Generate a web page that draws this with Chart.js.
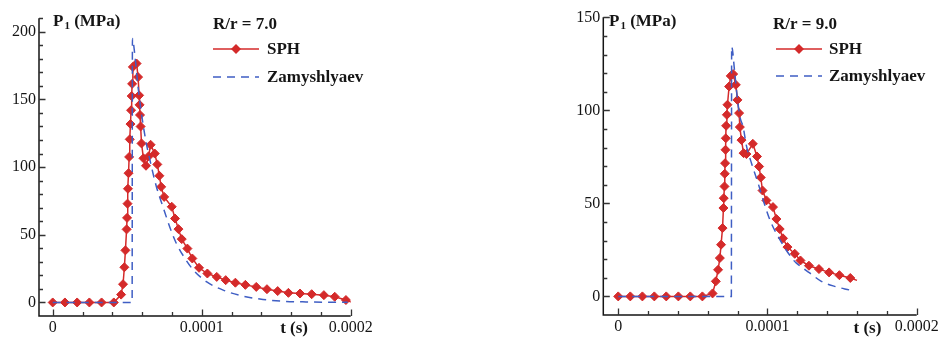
<!DOCTYPE html>
<html>
<head>
<meta charset="utf-8">
<script src="https://cdn.jsdelivr.net/npm/chart.js@4.4.1/dist/chart.umd.min.js"></script>
<style>
  html, body { margin: 0; padding: 0; background: #fff; }
  #wrap { position: relative; width: 943px; height: 338px; }
  #c1 { position: absolute; left: 0; top: 0; }
  #c2 { position: absolute; left: 470px; top: 0; }
</style>
</head>
<body>
<div id="wrap">
  <canvas id="c1" width="470" height="338"></canvas>
  <canvas id="c2" width="473" height="338"></canvas>
</div>
<script>
// time values in microseconds (axis labels are shown in seconds), pressure in MPa

// R/r = 7.0
const sph7T = [0, 8.2, 16.4, 24.6, 32.8, 41,
  45.9, 47.2, 48.1, 48.8, 49.6, 49.9, 50.2, 50.5, 50.9, 51.3, 51.7, 52.2, 52.6, 53, 53.3, 53.8, 56.3,
  57.3, 58, 58.3, 58.6, 59, 59.6, 60.9, 62.6, 64.4, 65.7, 68.5, 70.2, 71.6, 72.8, 74.8, 79.9, 82.1,
  84.4, 86.6, 90.4, 93.7, 98.2, 103.8, 110.1, 116.1, 122.6, 129.3, 136.6, 143.8, 151, 158.2, 166,
  173.8, 182, 189.3, 196.8, 200.5];
const sph7P = [0, 0, 0, 0, 0, 0,
  5.8, 13.5, 26, 38.5, 54, 62.5, 73, 84, 95.5, 107.5, 120.5, 131.8, 142, 152.5, 161.5, 174, 176.5,
  166.5, 153, 146, 138.5, 130, 117.5, 106.5, 101, 108, 116.5, 110, 102, 93.6, 85.4, 78, 70.7, 62,
  54.2, 46.8, 39.8, 32.5, 25.6, 21.4, 18.9, 16.5, 14.6, 13, 11.5, 9.8, 8.4, 7.1, 6.6,
  6.1, 5.4, 4.2, 1.8, 0.3];
const zam7T = [0, 53.3, 53.5, 55, 57.3, 59.5, 62.4, 65.1, 69.6, 74, 78.5, 83, 88.8, 94.4, 103.4,
  114.5, 125.7, 139, 154.6, 170, 198];
const zam7P = [0, 0, 195, 184, 159, 140, 120, 106, 85.5, 70.7, 56, 43.6, 32.5, 24, 15.2,
  9.1, 5.2, 2.5, 0.9, 0.4, 0.1];

// R/r = 9.0
const sph9T = [0, 8.1, 16.2, 24.2, 32.2, 40.3, 48.3, 56.4,
  63.2, 65.4, 66.9, 68.1, 68.9, 69.9, 70.5, 70.7, 71.2, 71.4, 71.6, 71.9, 72.1, 72.3, 72.8, 73.2,
  74.3, 75.4, 77, 78.8, 79.9, 81, 81.5, 82.6, 84, 85.9, 90.2, 93, 94.4, 95.5, 96.7, 99.3, 103.7,
  106, 108.2, 110.4, 113.4, 118.3, 122.1, 127.8, 134.5, 141.3, 148.2, 155.5, 160];
const sph9P = [0, 0, 0, 0, 0, 0, 0, 0,
  1.6, 8.1, 14.3, 20.6, 27.8, 36.7, 47.5, 52.8, 59.1, 65.9, 71.6, 78.8, 85, 91.7, 97.6, 103,
  112.8, 118.5, 119.5, 113.7, 105.6, 98.5, 91, 84, 77, 76.5, 82, 75.2, 69.8, 63.9, 56.9, 51.6, 48,
  41.6, 36.2, 31.2, 26.5, 22.9, 19.3, 16.5, 14.7, 12.9, 11.4, 9.9, 8.6];
const zam9T = [0, 75.8, 76, 78.1, 79.7, 81.5, 83.7, 86, 89.3, 93.7, 97.1, 101.6, 108.3, 117.2,
  119.4, 128.3, 136.1, 145, 155.2];
const zam9P = [0, 0, 134.2, 120, 107.4, 96.7, 91, 80.6, 71.6, 60.9, 51.9, 41.2, 30.5, 19.7,
  17.9, 12.6, 8.1, 5.4, 3.4];

const RED = '#d42a2a';
const BLUE = '#3f5ec4';
const INK = '#151515';
const SERIF = "'Liberation Serif', 'Times New Roman', serif";

function pts(ts, ps) {
  return ts.map((t, i) => ({ x: t, y: ps[i] }));
}

function diamond(ctx, x, y, r) {
  ctx.beginPath();
  ctx.moveTo(x - r, y);
  ctx.lineTo(x, y - r);
  ctx.lineTo(x + r, y);
  ctx.lineTo(x, y + r);
  ctx.closePath();
  ctx.fill();
}

// axes with inward ticks, labels and legend
function decor(cfg) {
  return {
    id: 'decor',
    afterDraw(chart) {
      const ctx = chart.ctx;
      const a = chart.chartArea;
      const xs = chart.scales.x, ys = chart.scales.y;
      ctx.save();
      ctx.strokeStyle = INK;
      ctx.lineWidth = 1.5;
      ctx.beginPath();
      ctx.moveTo(a.left, a.top);
      ctx.lineTo(a.left, a.bottom);
      ctx.lineTo(a.right, a.bottom);
      ctx.stroke();

      ctx.lineWidth = 1.3;
      ctx.strokeStyle = '#333';
      ctx.beginPath();
      ys.ticks.forEach(t => {
        if (t.value <= ys.min) return;
        const y = Math.round(ys.getPixelForValue(t.value)) + 0.5;
        const len = t.value % 50 === 0 ? 6.5 : 4;
        ctx.moveTo(a.left, y);
        ctx.lineTo(a.left + len, y);
      });
      xs.ticks.forEach(t => {
        if (t.value <= xs.min) return;
        const x = Math.round(xs.getPixelForValue(t.value)) + 0.5;
        const len = t.value % 100 === 0 ? 6.5 : 4;
        ctx.moveTo(x, a.bottom);
        ctx.lineTo(x, a.bottom - len);
      });
      ctx.stroke();

      ctx.fillStyle = INK;
      ctx.textBaseline = 'alphabetic';
      ctx.textAlign = 'left';
      // P1 (MPa)
      const bold = s => 'bold ' + s + 'px ' + SERIF;
      let px = cfg.pLabel.x;
      ctx.font = bold(17);
      ctx.fillText('P', px, cfg.pLabel.y);
      px += ctx.measureText('P').width + 1;
      ctx.font = bold(11);
      ctx.fillText('1', px, cfg.pLabel.y + 3);
      px += ctx.measureText('1').width;
      ctx.font = bold(17);
      ctx.fillText(' (MPa)', px, cfg.pLabel.y);

      // title + legend
      ctx.fillText(cfg.title.text, cfg.title.x, cfg.title.y);
      const lg = cfg.legend;
      ctx.strokeStyle = RED;
      ctx.lineWidth = 1.5;
      ctx.beginPath();
      ctx.moveTo(lg.x0, lg.y1);
      ctx.lineTo(lg.x1, lg.y1);
      ctx.stroke();
      ctx.fillStyle = RED;
      diamond(ctx, (lg.x0 + lg.x1) / 2, lg.y1, 5);
      ctx.strokeStyle = BLUE;
      ctx.setLineDash([8, 6]);
      ctx.beginPath();
      ctx.moveTo(lg.x0, lg.y2);
      ctx.lineTo(lg.x1, lg.y2);
      ctx.stroke();
      ctx.setLineDash([]);
      ctx.fillStyle = INK;
      ctx.textBaseline = 'middle';
      ctx.fillText('SPH', lg.tx, lg.y1 + 1);
      ctx.fillText('Zamyshlyaev', lg.tx, lg.y2 + 1);

      // t (s)
      ctx.textAlign = 'center';
      ctx.fillText('t (s)', xs.getPixelForValue(cfg.tLabelAt), 329);
      ctx.restore();
    }
  };
}

function makeChart(id, cfg) {
  const tickFont = { family: SERIF, size: 16 };
  return new Chart(document.getElementById(id), {
    type: 'line',
    data: {
      datasets: [
        {
          label: 'Zamyshlyaev',
          data: pts(cfg.zamT, cfg.zamP),
          borderColor: BLUE,
          borderWidth: 1.5,
          borderDash: [8, 6],
          pointRadius: 0,
          cubicInterpolationMode: 'monotone',
          fill: false,
          order: 0
        },
        {
          label: 'SPH',
          data: pts(cfg.sphT, cfg.sphP),
          borderColor: RED,
          backgroundColor: RED,
          borderWidth: 1.5,
          tension: 0,
          pointStyle: 'rectRot',
          pointRadius: c => c.dataIndex === cfg.sphT.length - 1 ? 0 : 4.5,
          pointBackgroundColor: RED,
          pointBorderColor: RED,
          pointBorderWidth: 1,
          fill: false,
          order: 1
        }
      ]
    },
    options: {
      responsive: false,
      animation: false,
      layout: { padding: cfg.padding },
      plugins: { legend: { display: false }, tooltip: { enabled: false } },
      scales: {
        x: {
          type: 'linear',
          min: cfg.xMin,
          max: 200,
          afterFit: s => { s.height = cfg.xHeight; },
          border: { display: false },
          grid: { display: false, drawTicks: false },
          ticks: {
            stepSize: 20,
            includeBounds: false,
            autoSkip: false,
            maxRotation: 0,
            padding: 2,
            color: INK,
            font: tickFont,
            callback: v => v === 0 ? '0' : (v % 100 === 0 ? String(v / 1e6) : '')
          }
        },
        y: {
          min: -10,
          max: cfg.yMax,
          afterFit: s => { s.width = cfg.yWidth; },
          border: { display: false },
          grid: { display: false, drawTicks: false },
          ticks: {
            stepSize: 10,
            autoSkip: false,
            padding: 3,
            color: INK,
            font: tickFont,
            callback: v => v % 50 === 0 ? String(v) : ''
          }
        }
      }
    },
    plugins: [decor(cfg)]
  });
}

makeChart('c1', {
  sphT: sph7T, sphP: sph7P, zamT: zam7T, zamP: zam7P,
  xMin: -9.2, yMax: 210, yWidth: 39, xHeight: 22,
  padding: { left: 0, right: 119.3, top: 18.2, bottom: 0 },
  pLabel: { x: 53, y: 26 },
  title: { text: 'R/r = 7.0', x: 213, y: 29 },
  legend: { x0: 213, x1: 259, y1: 49, y2: 77, tx: 267 },
  tLabelAt: 162
});

makeChart('c2', {
  sphT: sph9T, sphP: sph9P, zamT: zam9T, zamP: zam9P,
  xMin: -10, yMax: 150, yWidth: 36, xHeight: 23,
  padding: { left: 97.3, right: 26.3, top: 17.3, bottom: 0 },
  pLabel: { x: 139, y: 26 },
  title: { text: 'R/r = 9.0', x: 303, y: 29 },
  legend: { x0: 306, x1: 352, y1: 49, y2: 76, tx: 359 },
  tLabelAt: 167
});
</script>
</body>
</html>
